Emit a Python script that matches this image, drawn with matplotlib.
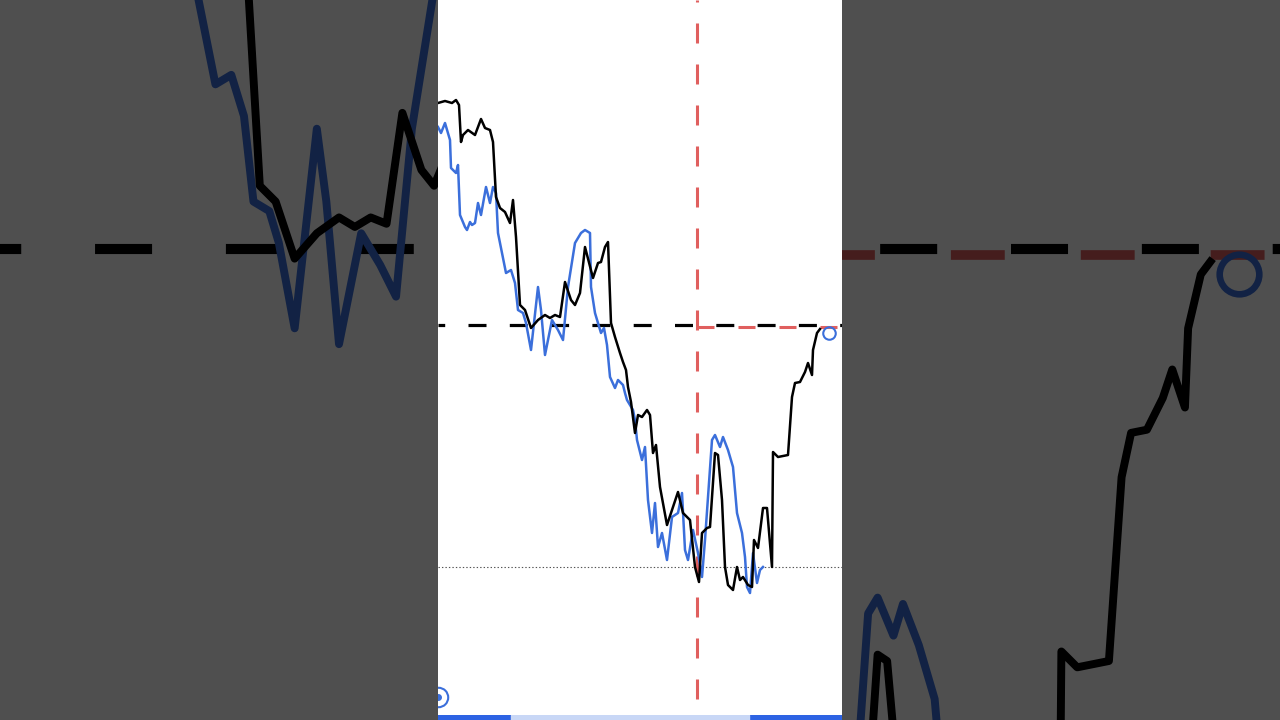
import matplotlib
matplotlib.use('Agg')
import matplotlib.pyplot as plt
from matplotlib.patches import Rectangle
import numpy as np

plt.rcParams['lines.scale_dashes'] = False

# black series (bar index, price)
black_x = [0, 7, 14, 18, 21, 23, 25, 30, 37, 43, 47, 52, 55, 58, 62, 67, 72, 75, 78, 82,
           87, 93, 100, 107, 112, 117, 122, 127, 133, 137, 142, 147, 155, 160, 163, 167, 170,
           173, 177, 182, 185, 188, 190, 193, 197, 200, 204, 209, 212, 215, 218, 222, 229, 240, 245, 252,
           257, 261, 264, 269, 272, 277, 280, 284, 287, 290, 295, 299, 302, 305, 310, 314,
           316, 320, 325, 329, 334, 335, 340, 350, 354, 357, 362, 367, 370, 374, 375, 379, 382]
black_y = [617, 619, 617, 620, 615, 578, 585, 590, 585, 601, 592, 590, 578, 523, 512, 508, 497, 520, 483, 415,
           410, 392, 400, 405, 402, 405, 403, 438, 420, 415, 427, 473, 442, 457, 458, 473, 478,
           397, 383, 367, 358, 350, 333, 318, 287, 305, 303, 310, 305, 267, 275, 233, 195, 228, 207, 200,
           153, 138, 187, 192, 193, 267, 265, 220, 153, 135, 130, 153, 140, 143, 135, 133,
           180, 172, 212, 212, 153, 268, 263, 265, 323, 337, 338, 348, 357, 345, 370, 387, 391]

# blue series
blue_x = [0, 3, 7, 12, 13, 18, 20, 22, 27, 29, 32, 34, 37, 40, 43, 48, 52, 55, 58, 60, 63, 68, 73, 77,
          80, 85, 88, 93, 100, 103, 107, 114, 120, 125, 130, 137, 143, 147, 152, 153, 157, 163,
          166, 169, 172, 177, 180, 185, 187, 189, 195, 197, 199, 204, 207, 210, 214, 217, 220, 224, 229, 234, 240,
          244, 247, 250, 255, 260, 264, 267, 274, 277, 282, 285, 290, 295, 299, 304, 307, 309,
          312, 315, 319, 322, 325]
blue_y = [593, 587, 597, 580, 552, 547, 555, 505, 493, 490, 498, 495, 497, 517, 505, 533, 517, 533, 527, 487, 472, 447, 450, 437,
          410, 407, 397, 370, 433, 410, 365, 400, 390, 380, 433, 477, 487, 490, 487, 433, 407, 387,
          392, 375, 343, 332, 340, 335, 327, 320, 310, 300, 280, 260, 273, 220, 187, 217, 173, 187, 160, 203, 207,
          227, 170, 160, 190, 167, 143, 180, 280, 285, 273, 283, 270, 253, 207, 187, 163, 133,
          127, 167, 137, 150, 153]

resistance = 395     # black dashed level
target = 393         # red dashed level
support = 153        # dotted level
signal_x = 259       # red dashed vertical
marker_x, marker_y = 391, 387

x_max, y_max = 404, 720
blue = '#3b6fdb'
red = '#e05f5e'
px = 0.72  # points per pixel at dpi 100


def draw_chart(ax, s):
    ax.plot(blue_x, blue_y, color=blue, lw=1.8*s, solid_joinstyle='round', zorder=3)
    ax.plot(black_x, black_y, color='black', lw=1.8*s, solid_joinstyle='round', zorder=4)
    ax.plot([0, x_max], [resistance, resistance], color='black', lw=2.3*s,
            linestyle=(11.3*px*s, (18*px*s, 23.3*px*s)), zorder=2)
    ax.plot([signal_x, x_max], [target, target], color=red, lw=2.2*s,
            linestyle=(0, (17*px*s, 24*px*s)), zorder=2)
    ax.plot([signal_x, signal_x], [y_max, 0], color=red, lw=2.2*s,
            linestyle=(18*px*s, (20*px*s, 21*px*s)), zorder=2)
    ax.plot([0, x_max], [support, support], color='#555555', lw=0.8*s,
            linestyle=(0, (1*s, 1.5*s)), zorder=1)
    ax.plot([marker_x], [marker_y], 'o', ms=9*s, mfc='none', mec=blue, mew=1.5*s, zorder=5)
    ax.set_xlim(0, x_max)
    ax.axis('off')


fig = plt.figure(figsize=(12.8, 7.2), dpi=100)

# darkened background: same frame scaled to full width
s = 1280 / 404
ax_bg = fig.add_axes([0, 0, 1, 1], facecolor='white')
draw_chart(ax_bg, s)
half = y_max / s / 2
ax_bg.set_ylim(360 - half, 360 + half)
ax_bg.add_patch(Rectangle((0, 0), 1, 1, transform=ax_bg.transAxes, facecolor='black',
                          lw=0, alpha=0.69, zorder=10))

# center frame
ax = fig.add_axes([438/1280, 0, 404/1280, 1], facecolor='white')
ax.add_patch(Rectangle((0, 0), 1, 1, transform=ax.transAxes, facecolor='white', lw=0, zorder=0))
draw_chart(ax, 1)
ax.set_ylim(0, y_max)
ax.plot([0], [23], 'o', ms=14, mfc='none', mec=blue, mew=1.5, zorder=6)
ax.plot([0], [23], 'o', ms=4, color=blue, zorder=6)

# progress bar
progress = [0.18, 0.77]
ax_bar = fig.add_axes([438/1280, 0, 404/1280, 5/720])
ax_bar.broken_barh([(0, progress[0]), (progress[1], 1 - progress[1])], (0, 1), color='#2d63e3')
ax_bar.broken_barh([(progress[0], progress[1] - progress[0])], (0, 1), color='#c8d7f6')
ax_bar.set_xlim(0, 1)
ax_bar.set_ylim(0, 1)
ax_bar.axis('off')

fig.savefig('out.png', dpi=100)
